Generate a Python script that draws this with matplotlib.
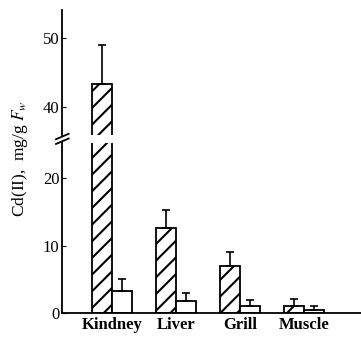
import numpy as np
import matplotlib.pyplot as plt

plt.rcParams['font.family'] = 'Liberation Serif'
plt.rcParams['mathtext.fontset'] = 'stix'
plt.rcParams['hatch.linewidth'] = 1.5

# Данные (Cd(II), mg/g Fw)
tissues = ['Kindney', 'Liver', 'Grill', 'Muscle']
hatched = [43.4, 12.6, 7.0, 1.1]
hatched_top = [49.0, 15.2, 9.0, 2.0]
open_ = [3.3, 1.8, 1.1, 0.4]
open_top = [5.0, 3.0, 1.9, 1.1]

x = np.arange(len(tissues))
w = 0.31

fig = plt.figure(figsize=(3.61, 3.38), dpi=100)
ax_hi = fig.add_axes([0.172, 0.601, 0.828, 0.369])
ax_lo = fig.add_axes([0.172, 0.074, 0.828, 0.503])

for ax in (ax_hi, ax_lo):
    ax.bar(x - w / 2, hatched, w, color='white', edgecolor='black', hatch='//', linewidth=1.3)
    ax.bar(x + w / 2, open_, w, color='white', edgecolor='black', linewidth=1.3)
    ax.errorbar(x - w / 2, hatched, yerr=[np.zeros(4), np.array(hatched_top) - hatched],
                fmt='none', ecolor='black', elinewidth=1.2, capsize=3, capthick=1.2)
    ax.errorbar(x + w / 2, open_, yerr=[np.zeros(4), np.array(open_top) - open_],
                fmt='none', ecolor='black', elinewidth=1.2, capsize=3, capthick=1.2)
    ax.set_xlim(-0.78, 3.89)
    for s in ('top', 'right'):
        ax.spines[s].set_visible(False)
    ax.spines['left'].set_linewidth(1.3)
    ax.tick_params(axis='y', direction='in', length=3, labelsize=12, pad=2)

ax_hi.set_ylim(36, 54)
ax_hi.set_yticks([40, 50])
ax_hi.spines['bottom'].set_visible(False)
ax_hi.set_xticks([])

ax_lo.set_ylim(0, 25.2)
ax_lo.set_yticks([0, 10, 20])
ax_lo.spines['bottom'].set_linewidth(1.3)
ax_lo.set_xticks(x)
ax_lo.set_xticklabels(tissues, fontsize=12, fontweight='bold')
ax_lo.tick_params(axis='x', length=0, pad=3)

# Знак разрыва оси
for yb in (0.596, 0.582):
    fig.add_artist(plt.Line2D([0.155, 0.19], [yb - 0.008, yb + 0.008], color='black', lw=1.3))

fig.text(0.055, 0.53, 'Cd(II),  mg/g $F_w$', rotation=90, ha='center', va='center', fontsize=12.5)

fig.savefig('out.png', dpi=100)
